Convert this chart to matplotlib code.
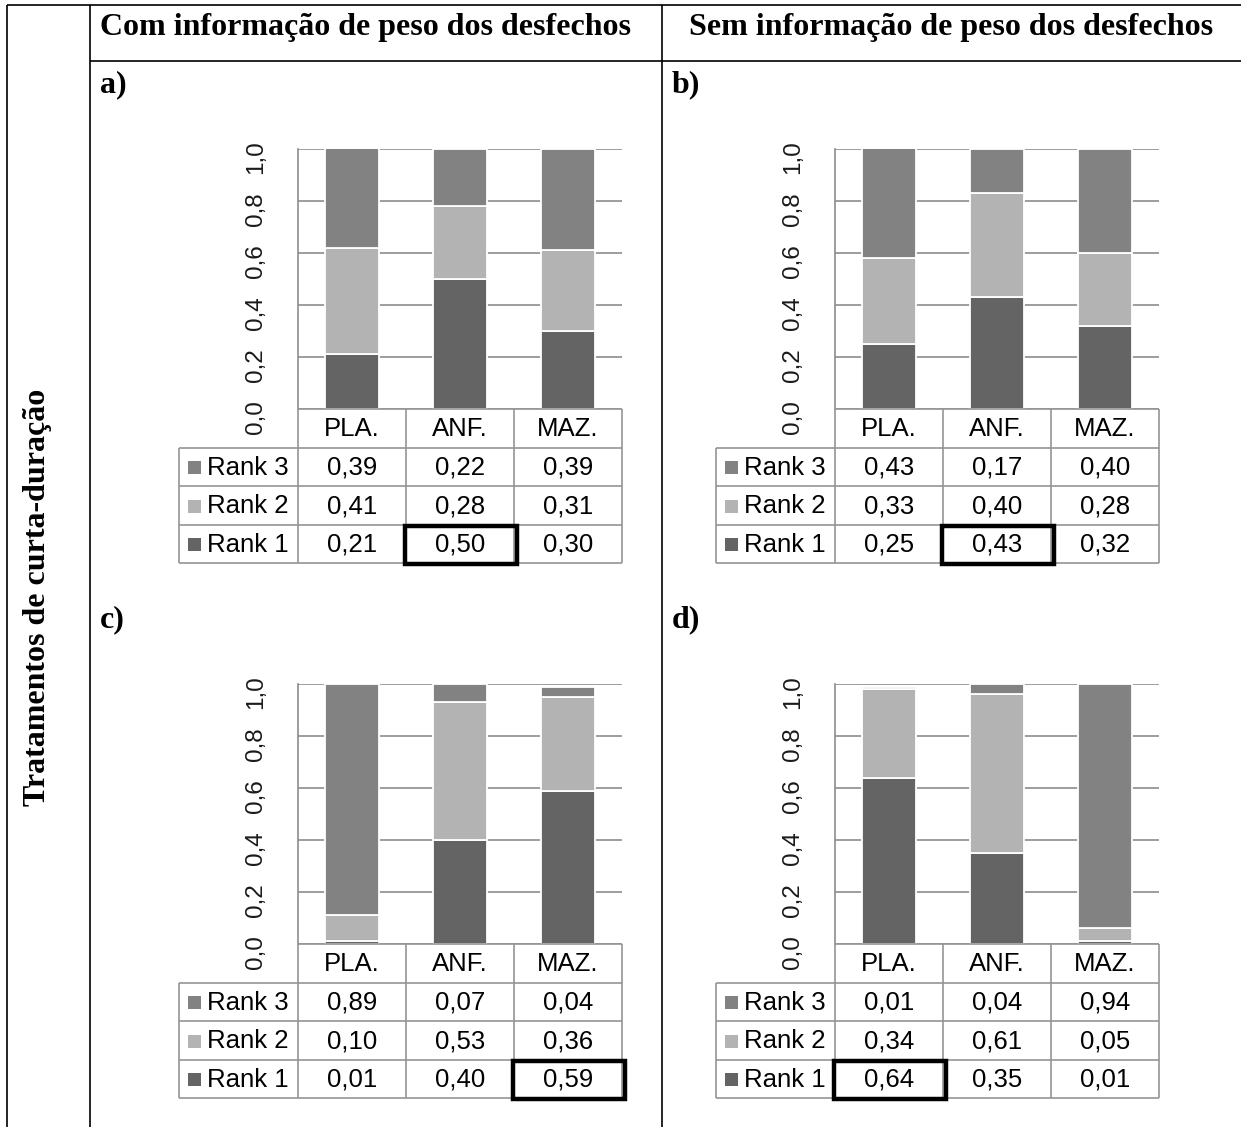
import numpy as np
import matplotlib
matplotlib.use("Agg")
import matplotlib.pyplot as plt
from matplotlib.patches import Rectangle

W, H = 1241, 1127

categories = ["PLA.", "ANF.", "MAZ."]
rank_names = ["Rank 3", "Rank 2", "Rank 1"]
panel_letters = ["a)", "b)", "c)", "d)"]
col_titles = ["Com informação de peso dos desfechos", "Sem informação de peso dos desfechos"]
row_title = "Tratamentos de curta-duração"
yticks = [0.0, 0.2, 0.4, 0.6, 0.8, 1.0]

rank1_a = [0.21, 0.50, 0.30]
rank2_a = [0.41, 0.28, 0.31]
rank3_a = [0.39, 0.22, 0.39]

rank1_b = [0.25, 0.43, 0.32]
rank2_b = [0.33, 0.40, 0.28]
rank3_b = [0.43, 0.17, 0.40]

rank1_c = [0.01, 0.40, 0.59]
rank2_c = [0.10, 0.53, 0.36]
rank3_c = [0.89, 0.07, 0.04]

rank1_d = [0.64, 0.35, 0.01]
rank2_d = [0.34, 0.61, 0.05]
rank3_d = [0.01, 0.04, 0.94]

panels = [
    (rank1_a, rank2_a, rank3_a),
    (rank1_b, rank2_b, rank3_b),
    (rank1_c, rank2_c, rank3_c),
    (rank1_d, rank2_d, rank3_d),
]

colors = {"Rank 1": "#646464", "Rank 2": "#b3b3b3", "Rank 3": "#828282"}
grid_gray = "#8c8c8c"
table_gray = "#959595"
SANS = "Liberation Sans"
SERIF = "Liberation Serif"


def fmt(v, nd=2):
    return f"{v:.{nd}f}".replace(".", ",")


fig = plt.figure(figsize=(W / 100, H / 100), dpi=100)

# overlay in pixel coordinates for the frame and tables
ov = fig.add_axes([0, 0, 1, 1], zorder=5)
ov.set_xlim(0, W)
ov.set_ylim(H, 0)
ov.axis("off")
ov.patch.set_alpha(0)

# outer frame
frame = dict(color="black", lw=1.2, solid_capstyle="butt")
ov.plot([7, W], [5, 5], **frame)
ov.plot([7, 7], [5, H], **frame)
ov.plot([90, 90], [5, H], **frame)
ov.plot([661.5, 661.5], [5, H], **frame)
ov.plot([90, W], [61, 61], **frame)

ov.text(366, 35, col_titles[0], family=SERIF, weight="bold", fontsize=23,
        ha="center", va="baseline")
ov.text(951, 35, col_titles[1], family=SERIF, weight="bold", fontsize=23,
        ha="center", va="baseline")
ov.text(38, 597, row_title, family=SERIF, weight="bold", fontsize=23,
        ha="center", va="center", rotation=90)

# panel a geometry (pixels); other panels are shifted copies
AX_L, AX_R, AX_T, AX_B = 298, 622, 149, 409
LAB_L = 179
ROW_Y = [409, 447.5, 486, 524.5, 563]
DX, DY = 537, 535
LETTER_X = [100, 672]

for i, (r1, r2, r3) in enumerate(panels):
    ox = DX * (i % 2)
    oy = DY * (i // 2)
    L, R, T, B = AX_L + ox, AX_R + ox, AX_T + oy, AX_B + oy

    ov.text(LETTER_X[i % 2], 92 + oy, panel_letters[i],
            family=SERIF, weight="bold", fontsize=23, ha="left", va="baseline")

    ax = fig.add_axes([L / W, 1 - B / H, (R - L) / W, (B - T) / H])
    x = np.arange(len(categories))
    r1 = np.array(r1)
    r2 = np.array(r2)
    r3 = np.array(r3)
    bar_kw = dict(width=0.5, edgecolor="white", linewidth=1.3, zorder=3)
    ax.bar(x, r1, color=colors["Rank 1"], **bar_kw)
    ax.bar(x, r2, bottom=r1, color=colors["Rank 2"], **bar_kw)
    ax.bar(x, r3, bottom=r1 + r2, color=colors["Rank 3"], **bar_kw)
    ax.set_xlim(-0.5, 2.5)
    ax.set_ylim(0, 1.0)
    ax.set_xticks([])
    ax.set_yticks(yticks)
    ax.set_yticklabels([fmt(v, 1) for v in yticks], rotation=90,
                       family=SANS, fontsize=17.5, color="#1a1a1a")
    ax.tick_params(axis="y", length=0, pad=22)
    ax.grid(axis="y", color=grid_gray, lw=1.2, zorder=0)
    for s in ["top", "right", "bottom"]:
        ax.spines[s].set_visible(False)
    ax.spines["left"].set_color(grid_gray)
    ax.spines["left"].set_linewidth(1.2)
    ax.patch.set_alpha(0)

    # data table under the chart
    col_x = [L + (R - L) * k / 3 for k in range(4)]
    ry = [y + oy for y in ROW_Y]
    line = dict(color=table_gray, lw=1.2, solid_capstyle="butt")
    ov.plot([L, R], [ry[0], ry[0]], **line)
    for y in ry[1:]:
        ov.plot([LAB_L + ox, R], [y, y], **line)
    for xc in col_x:
        ov.plot([xc, xc], [ry[0], ry[-1]], **line)
    ov.plot([LAB_L + ox, LAB_L + ox], [ry[1], ry[-1]], **line)

    for k, cat in enumerate(categories):
        ov.text((col_x[k] + col_x[k + 1]) / 2, (ry[0] + ry[1]) / 2 + 1, cat,
                family=SANS, fontsize=18.5, ha="center", va="center")

    rows = {"Rank 3": r3, "Rank 2": r2, "Rank 1": r1}
    for j, name in enumerate(rank_names):
        yc = (ry[j + 1] + ry[j + 2]) / 2 + 1
        ov.add_patch(Rectangle((188 + ox, yc - 6.5), 13, 13,
                               color=colors[name], lw=0))
        ov.text(207 + ox, yc, name, family=SANS, fontsize=18.5,
                ha="left", va="center")
        for k in range(len(categories)):
            ov.text((col_x[k] + col_x[k + 1]) / 2, yc, fmt(rows[name][k]),
                    family=SANS, fontsize=18.5, ha="center", va="center")

    # best Rank 1 cell gets a thick black box
    best = int(np.argmax(r1))
    ov.add_patch(Rectangle((col_x[best] - 1, ry[3] + 1),
                           col_x[best + 1] - col_x[best] + 4, ry[4] - ry[3],
                           fill=False, ec="black", lw=3.2, zorder=6))

fig.savefig("out.png", dpi=100)
